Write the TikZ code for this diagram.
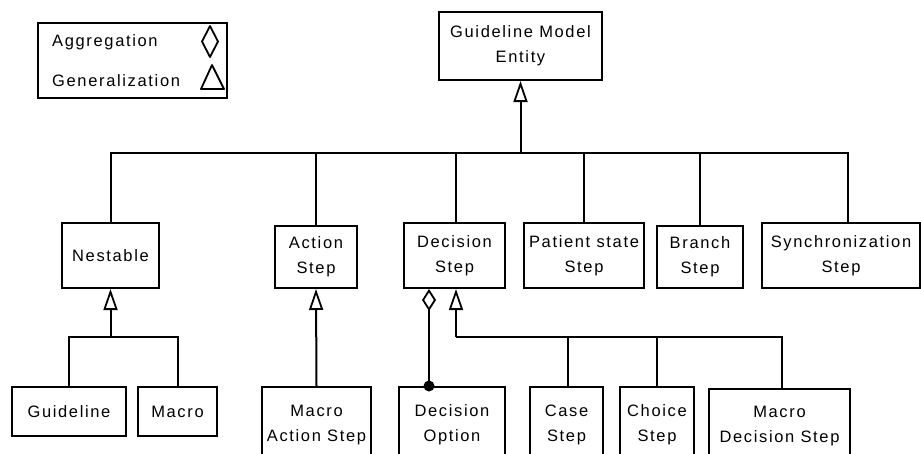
\documentclass[tikz,border=0pt]{standalone}
\usepackage{fontspec}
\setmainfont{Liberation Sans}[LetterSpace=10]
\usetikzlibrary{arrows.meta}
\begin{document}
\begin{tikzpicture}[x=1pt,y=-1pt,
  every node/.style={font=\fontsize{16.5}{25}\selectfont},
  box/.style={draw,line width=2pt,rectangle,inner sep=0pt,align=center},
  link/.style={line width=2pt},
  gen/.style={link,{Triangle[open,length=21pt,width=14pt,line width=1.8pt]}-},
  aggr/.style={link,{Diamond[open,length=22pt,width=14pt,line width=1.8pt]}-},
  lbl/.style={anchor=west,inner sep=0pt}]
\useasboundingbox (0,0) rectangle (921,453);
\clip (0,0) rectangle (921,453);

% legend
\node[box,minimum width=189pt,minimum height=75pt] (legend) at (132.5,60.5) {};
\node[lbl] (lagg) at (52,42) {Aggregation};
\node[lbl] (lgen) at (52,81) {Generalization};
\draw[line width=1.8pt,line join=round] (210,26) -- (218,41.5) -- (210,57) -- (202,41.5) -- cycle;
\draw[line width=1.8pt,line join=round] (212,65) -- (224,89) -- (201,89) -- cycle;

% classes
\node[box,minimum width=163pt,minimum height=68pt] (gme) at (520.5,46) {Guideline Model\\Entity};
\node[box,minimum width=97pt,minimum height=65pt] (nest) at (110.5,255.5) {Nestable};
\node[box,minimum width=82pt,minimum height=62pt] (act) at (316,257) {Action\\Step};
\node[box,minimum width=101pt,minimum height=65pt] (dec) at (454.5,255.5) {Decision\\Step};
\node[box,minimum width=120pt,minimum height=65pt] (pat) at (584,255.5) {Patient state\\Step};
\node[box,minimum width=86pt,minimum height=62pt] (bra) at (700,257) {Branch\\Step};
\node[box,minimum width=158pt,minimum height=65pt] (syn) at (841,255.5) {Synchronization\\Step};

\node[box,minimum width=114pt,minimum height=49pt] (gl) at (69,411.5) {Guideline};
\node[box,minimum width=79pt,minimum height=49pt] (mac) at (177.5,411.5) {Macro};
\node[box,minimum width=109pt,minimum height=76pt] (mas) at (316.5,425) {Macro\\Action Step};
\node[box,minimum width=106pt,minimum height=76pt] (opt) at (452,425) {Decision\\Option};
\node[box,minimum width=73pt,minimum height=76pt] (cas) at (566.5,425) {Case\\Step};
\node[box,minimum width=74pt,minimum height=76pt] (cho) at (657,425) {Choice\\Step};
\node[box,minimum width=141pt,minimum height=74pt] (mds) at (779.5,426) {Macro\\Decision Step};

% junction points of the hierarchy
\coordinate (bus) at (520.5,153);
\coordinate (nestjoin) at (110.5,337);
\coordinate (decjoin) at (456,337);

% top level generalization
\draw[gen] (gme.south) -- (bus);
\draw[link] (nest.north) -- (nest.north |- bus) -- ([xshift=7pt]syn.north |- bus) -- ([xshift=7pt]syn.north);
\draw[link] (act.north) -- (act.north |- bus);
\draw[link] ([xshift=1.5pt]dec.north) -- ([xshift=1.5pt]dec.north |- bus);
\draw[link] (pat.north) -- (pat.north |- bus);
\draw[link] (bra.north) -- (bra.north |- bus);

% nestable
\draw[gen] (nest.south) -- (nestjoin);
\draw[link] (gl.north) |- (nestjoin) -| (mac.north);

% action step
\draw[gen] (act.south) -- (mas.north);

% decision step
\draw[gen] ([xshift=1.5pt]dec.south) -- (decjoin);
\draw[link] (decjoin) -| ([xshift=2.5pt]mds.north);
\draw[link] ([xshift=1.5pt]cas.north) -- ([xshift=1.5pt]cas.north |- decjoin);
\draw[link] (cho.north) -- (cho.north |- decjoin);
\draw[aggr] ([xshift=-25.5pt]dec.south) -- ([xshift=-23pt]opt.north);
\fill ([xshift=-23pt]opt.north) circle (5.5pt);
\end{tikzpicture}
\end{document}
